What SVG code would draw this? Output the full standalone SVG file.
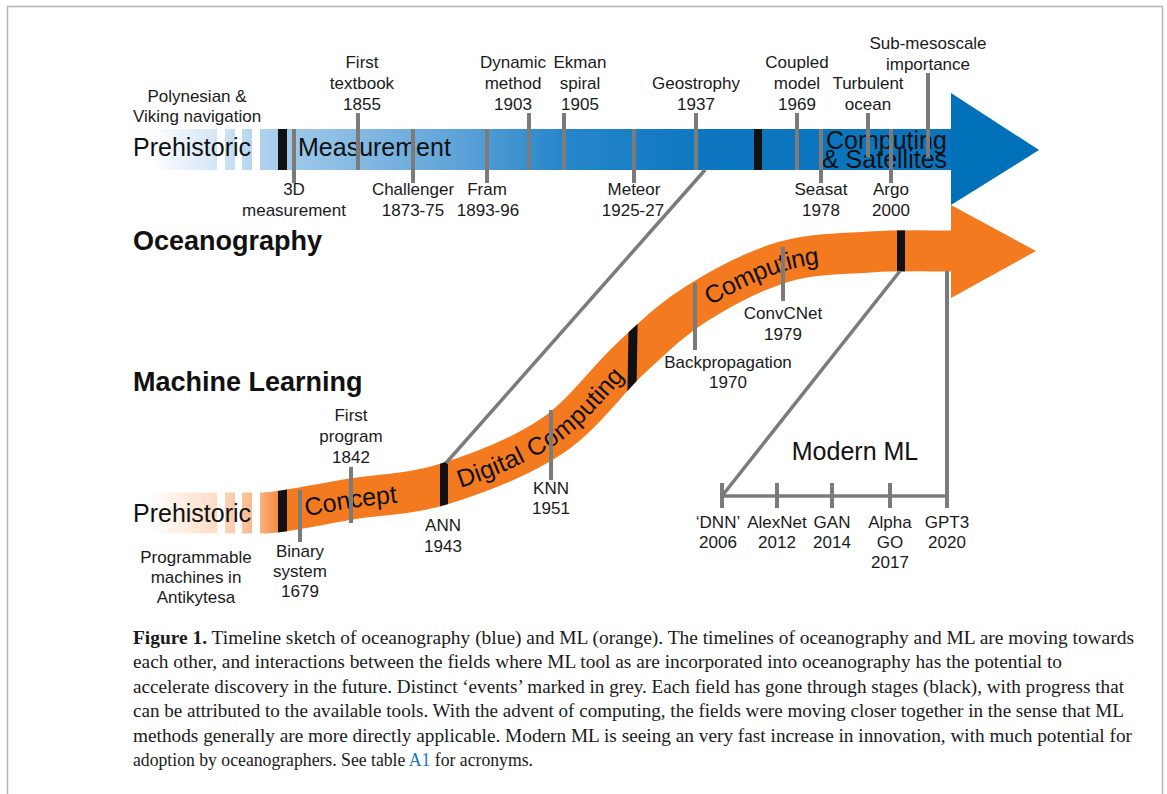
<svg xmlns="http://www.w3.org/2000/svg" width="1167" height="794" viewBox="0 0 1167 794">
<defs>
<style>
.t{font-family:"Liberation Sans",Arial,Helvetica,sans-serif;font-size:17px;fill:#1a1a1a;text-anchor:middle}
.big{font-family:"Liberation Sans",Arial,Helvetica,sans-serif;font-size:25px;fill:#111}
.ttl{font-family:"Liberation Sans",Arial,Helvetica,sans-serif;font-size:27px;font-weight:bold;fill:#111}
.tick{stroke:#7b7b7b;stroke-width:4;fill:none}
.conn{stroke:#7b7b7b;stroke-width:3.5;fill:none}
.stage{fill:#111}
.gap{fill:#ffffff}
.cap{font-family:"Liberation Serif","Times New Roman",serif;font-size:19px;fill:#1a1a1a}
</style>
<linearGradient id="gBlue" gradientUnits="userSpaceOnUse" x1="150" y1="0" x2="951" y2="0">
<stop offset="0" stop-color="#ffffff"/>
<stop offset="0.084" stop-color="#d3e6f5"/>
<stop offset="0.137" stop-color="#b0d2ee"/>
<stop offset="0.19" stop-color="#9ac6e8"/>
<stop offset="0.375" stop-color="#62a5d9"/>
<stop offset="0.51" stop-color="#2887cb"/>
<stop offset="0.69" stop-color="#0c77c0"/>
<stop offset="1" stop-color="#0a73bc"/>
</linearGradient>
<linearGradient id="gOrange" gradientUnits="userSpaceOnUse" x1="150" y1="0" x2="285" y2="0">
<stop offset="0" stop-color="#ffffff"/>
<stop offset="0.5" stop-color="#fddcc4"/>
<stop offset="0.82" stop-color="#f8b281"/>
<stop offset="1" stop-color="#f47a20"/>
</linearGradient>
<path id="band" d="M150,513 L262,513 C282,513 320.7,503.8 351,499 C381.3,494.2 410.5,494.5 444,484 C477.5,473.5 520.8,457 552,436 C583.2,415 607,380 631,358 C655,336 670.7,320 696,304 C721.3,288 754,270.7 783,262 C812,253.3 842,253.8 870,252 C898,250.2 924,251 951,251"/>
<mask id="bandMask" maskUnits="userSpaceOnUse" x="0" y="0" width="1167" height="794">
<use href="#band" fill="none" stroke="#ffffff" stroke-width="41"/>
</mask>
</defs>

<rect x="0" y="0" width="1167" height="794" fill="#ffffff"/>
<rect id="frame" x="7.5" y="6.5" width="1155" height="800" fill="none" stroke="#b5b5b5" stroke-width="1.5"/>

<!-- Oceanography timeline -->
<g id="ocean-timeline">
<rect x="150" y="129" width="801" height="41" fill="url(#gBlue)"/>
<polygon points="951,93 1039,150 951,205" fill="#0071b9"/>
<rect class="gap" x="217" y="126" width="8" height="47"/>
<rect class="gap" x="235" y="126" width="7" height="47"/>
<rect class="gap" x="252" y="126" width="8" height="47"/>
<rect class="stage" x="278" y="129" width="9" height="41"/>
<rect class="stage" x="754" y="129" width="8" height="41"/>
<text class="big" x="133" y="156">Prehistoric</text>
<text class="big" x="298" y="156">Measurement</text>
<text class="big" x="826" y="149">Computing</text>
<text class="big" x="822" y="168">&amp; Satellites</text>
</g>
<text id="title-ocean" class="ttl" x="133" y="250">Oceanography</text>

<g id="ev-polynesian"><text class="t" x="197" y="102">Polynesian &amp;</text><text class="t" x="197" y="122">Viking navigation</text></g>
<g id="ev-3d"><line class="tick" x1="294" y1="129" x2="294" y2="183"/><text class="t" x="294" y="195">3D</text><text class="t" x="294" y="216">measurement</text></g>
<g id="ev-textbook"><line class="tick" x1="358" y1="113" x2="358" y2="170"/><text class="t" x="362" y="68">First</text><text class="t" x="362" y="89">textbook</text><text class="t" x="362" y="110">1855</text></g>
<g id="ev-challenger"><line class="tick" x1="413" y1="129" x2="413" y2="183"/><text class="t" x="413" y="195">Challenger</text><text class="t" x="413" y="216">1873-75</text></g>
<g id="ev-fram"><line class="tick" x1="487" y1="129" x2="487" y2="183"/><text class="t" x="487" y="195">Fram</text><text class="t" x="488" y="216">1893-96</text></g>
<g id="ev-dynamic"><line class="tick" x1="529" y1="113" x2="529" y2="170"/><text class="t" x="513" y="68">Dynamic</text><text class="t" x="513" y="89">method</text><text class="t" x="513" y="110">1903</text></g>
<g id="ev-ekman"><line class="tick" x1="564" y1="113" x2="564" y2="170"/><text class="t" x="580" y="68">Ekman</text><text class="t" x="580" y="89">spiral</text><text class="t" x="580" y="110">1905</text></g>
<g id="ev-meteor"><line class="tick" x1="634" y1="129" x2="634" y2="183"/><text class="t" x="634" y="195">Meteor</text><text class="t" x="633" y="216">1925-27</text></g>
<g id="ev-geostrophy"><line class="tick" x1="696" y1="113" x2="696" y2="170"/><text class="t" x="696" y="89">Geostrophy</text><text class="t" x="696" y="110">1937</text></g>
<g id="ev-coupled"><line class="tick" x1="797" y1="113" x2="797" y2="170"/><text class="t" x="797" y="68">Coupled</text><text class="t" x="797" y="89">model</text><text class="t" x="797" y="110">1969</text></g>
<g id="ev-seasat"><line class="tick" x1="821" y1="129" x2="821" y2="183"/><text class="t" x="821" y="195">Seasat</text><text class="t" x="821" y="216">1978</text></g>
<g id="ev-turbulent"><line class="tick" x1="868" y1="113" x2="868" y2="157"/><text class="t" x="868" y="89">Turbulent</text><text class="t" x="868" y="110">ocean</text></g>
<g id="ev-argo"><line class="tick" x1="891" y1="129" x2="891" y2="183"/><text class="t" x="891" y="195">Argo</text><text class="t" x="891" y="216">2000</text></g>
<g id="ev-submeso"><line class="tick" x1="928" y1="73" x2="928" y2="157"/><text class="t" x="928" y="49">Sub-mesoscale</text><text class="t" x="928" y="70">importance</text></g>

<!-- Machine learning timeline -->
<g id="ml-timeline">
<use href="#band" fill="none" stroke="url(#gOrange)" stroke-width="41"/>
<polygon points="951,205 1036,251 951,298" fill="#f47a20"/>
<rect class="gap" x="217" y="488" width="8" height="50"/>
<rect class="gap" x="235" y="488" width="7" height="50"/>
<rect class="gap" x="252" y="488" width="8" height="50"/>
<g mask="url(#bandMask)">
<rect class="stage" x="278" y="480" width="9" height="60"/>
<polygon class="stage" points="440,450 448,447 448,516 440,519"/>
<polygon class="stage" points="629,300 638,300 636,420 627,420"/>
<rect class="stage" x="897" y="215" width="8" height="70"/>
</g>
<text class="big" x="133" y="522">Prehistoric</text>
<text class="big"><textPath href="#band" startOffset="155"><tspan dy="9">Concept</tspan></textPath></text>
<text class="big"><textPath href="#band" startOffset="311"><tspan dy="9">Digital Computing</tspan></textPath></text>
<text class="big"><textPath href="#band" startOffset="623"><tspan dy="9">Computing</tspan></textPath></text>
</g>
<text id="title-ml" class="ttl" x="133" y="391">Machine Learning</text>

<g id="ev-antikytesa"><text class="t" x="196" y="563">Programmable</text><text class="t" x="196" y="583">machines in</text><text class="t" x="196" y="603">Antikytesa</text></g>
<g id="ev-binary"><line class="tick" x1="300" y1="490" x2="300" y2="542"/><text class="t" x="300" y="557">Binary</text><text class="t" x="300" y="577">system</text><text class="t" x="300" y="597">1679</text></g>
<g id="ev-program"><line class="tick" x1="351" y1="467" x2="351" y2="523"/><text class="t" x="351" y="421">First</text><text class="t" x="351" y="442">program</text><text class="t" x="351" y="463">1842</text></g>
<g id="ev-ann"><text class="t" x="443" y="531">ANN</text><text class="t" x="443" y="552">1943</text></g>
<g id="ev-knn"><line class="tick" x1="551" y1="410" x2="551" y2="480"/><text class="t" x="551" y="494">KNN</text><text class="t" x="551" y="514">1951</text></g>
<g id="ev-backprop"><line class="tick" x1="695" y1="283" x2="695" y2="350"/><text class="t" x="728" y="368">Backpropagation</text><text class="t" x="728" y="388">1970</text></g>
<g id="ev-convcnet"><line class="tick" x1="783" y1="247" x2="783" y2="301"/><text class="t" x="783" y="319">ConvCNet</text><text class="t" x="783" y="340">1979</text></g>

<g id="modern-ml">
<text class="big" x="855" y="460" text-anchor="middle">Modern ML</text>
<line class="tick" x1="722" y1="483" x2="722" y2="508"/>
<line class="tick" x1="777" y1="483" x2="777" y2="508"/>
<line class="tick" x1="832" y1="483" x2="832" y2="508"/>
<line class="tick" x1="890" y1="483" x2="890" y2="508"/>
<line class="tick" x1="947" y1="271" x2="947" y2="508"/>
<text class="t" x="718" y="528">‘DNN’</text><text class="t" x="718" y="548">2006</text>
<text class="t" x="777" y="528">AlexNet</text><text class="t" x="777" y="548">2012</text>
<text class="t" x="832" y="528">GAN</text><text class="t" x="832" y="548">2014</text>
<text class="t" x="890" y="528">Alpha</text><text class="t" x="890" y="548">GO</text><text class="t" x="890" y="568">2017</text>
<text class="t" x="947" y="528">GPT3</text><text class="t" x="947" y="548">2020</text>
</g>

<g id="connectors">
<line class="conn" x1="446" y1="463" x2="705" y2="170"/>
<line class="conn" x1="900" y1="271" x2="722" y2="496"/>
<line class="conn" x1="722" y1="496" x2="947" y2="496"/>
</g>

<g id="caption">
<text class="cap" x="133" y="644" textLength="1001" lengthAdjust="spacingAndGlyphs"><tspan font-weight="bold">Figure 1.</tspan> Timeline sketch of oceanography (blue) and ML (orange). The timelines of oceanography and ML are moving towards</text>
<text class="cap" x="133" y="668" textLength="929" lengthAdjust="spacingAndGlyphs">each other, and interactions between the fields where ML tool as are incorporated into oceanography has the potential to</text>
<text class="cap" x="133" y="693" textLength="991" lengthAdjust="spacingAndGlyphs">accelerate discovery in the future. Distinct ‘events’ marked in grey. Each field has gone through stages (black), with progress that</text>
<text class="cap" x="133" y="717" textLength="991" lengthAdjust="spacingAndGlyphs">can be attributed to the available tools. With the advent of computing, the fields were moving closer together in the sense that ML</text>
<text class="cap" x="133" y="742" textLength="999" lengthAdjust="spacingAndGlyphs">methods generally are more directly applicable. Modern ML is seeing an very fast increase in innovation, with much potential for</text>
<text class="cap" x="133" y="766" textLength="400" lengthAdjust="spacingAndGlyphs">adoption by oceanographers. See table <tspan fill="#1a75bb">A1</tspan> for acronyms.</text>
</g>
</svg>
